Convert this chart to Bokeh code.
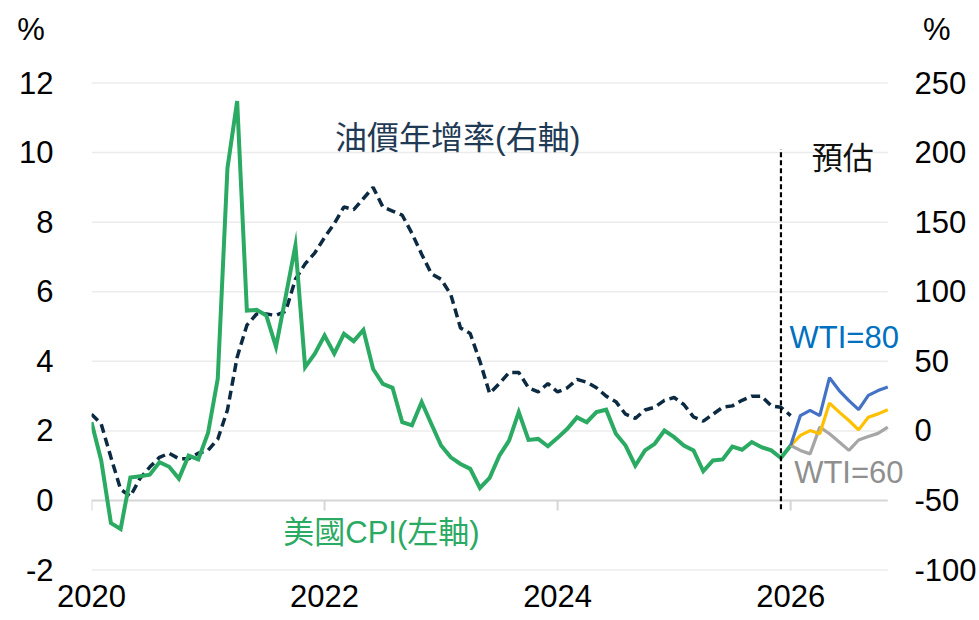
import numpy as np
import pandas as pd
from bokeh.plotting import figure
from bokeh.models import Range1d, LinearAxis, FixedTicker, Label
from bokeh.embed import file_html
from bokeh.resources import INLINE

# ---------------- data ----------------
cpi_start = "2020-01"
cpi_yoy = [2.25, 1.15, -0.65, -0.82, 0.66, 0.70, 0.74, 1.10, 0.97, 0.63, 1.29, 1.18,
           1.94, 3.50, 9.55, 11.48, 5.46, 5.48, 5.32, 4.42, 5.87, 7.33, 3.83, 4.22,
           4.74, 4.22, 4.79, 4.58, 4.90, 3.78, 3.35, 3.24, 2.25, 2.16, 2.83, 2.20,
           1.58, 1.24, 1.05, 0.91, 0.36, 0.65, 1.29, 1.72, 2.54, 1.74, 1.77, 1.56,
           1.80, 2.06, 2.39, 2.25, 2.54, 2.61, 1.92, 1.58, 1.00, 1.44, 1.63, 2.01,
           1.82, 1.58, 1.44, 0.84, 1.15, 1.18, 1.55, 1.46, 1.68, 1.53, 1.44, 1.22,
           1.58]
oil_yoy = [12, 5, -19, -42, -47, -34, -26, -19, -16, -20, -20, -16,
           -14, -6, 15, 53, 76, 84, 84, 83, 86, 109, 120, 128,
           139, 149, 161, 159, 167, 175, 161, 158, 155, 142, 127, 113,
           109, 98, 74, 70, 50, 27, 34, 42, 42, 31, 28, 34,
           28, 31, 37, 35, 31, 25, 21, 12, 9, 15, 17, 22,
           24, 19, 10, 7, 12, 17, 18, 22, 25, 25, 18, 17,
           11]
fc_start = "2026-01"
cpi_wti80 = [1.58, 2.44, 2.59, 2.44, 3.53, 3.16, 2.87, 2.61, 3.02, 3.16, 3.26]
cpi_wti70 = [1.58, 1.87, 2.01, 1.92, 2.80, 2.54, 2.30, 2.03, 2.39, 2.49, 2.61]
cpi_wti60 = [1.58, 1.44, 1.34, 2.11, 1.92, 1.68, 1.44, 1.74, 1.84, 1.93, 2.11]
forecast_marker = "2025-12"
year_ticks = [2020, 2022, 2024, 2026]
left_ticks = [-2, 0, 2, 4, 6, 8, 10, 12]
right_ticks = [-100, -50, 0, 50, 100, 150, 200, 250]


def dec_year(start, n):
    d = pd.date_range(start, periods=n, freq="MS")
    return (d.year + (d.month - 1) / 12.0).to_numpy()


x_cpi = dec_year(cpi_start, len(cpi_yoy))
x_oil = dec_year(cpi_start, len(oil_yoy))
x_fc = dec_year(fc_start, len(cpi_wti80))
x_mark = dec_year(forecast_marker, 1)[0]
x_first, x_last = x_cpi[0], x_fc[-1]

# left <-> right axis mapping: right = (left - 2) * 25
Y0, Y1 = -2.357, 14.027
to_right = lambda v: (v - 2) * 25
PCT_L = 13.55

FONT = "Liberation Sans"
CJK = "Liberation Sans, Noto Sans CJK TC"
NBSP = "\u00a0"

p = figure(width=979, height=620,
           x_range=Range1d(x_first, 2027.037),
           y_range=Range1d(Y0, Y1),
           output_backend="svg", toolbar_location=None,
           min_border_left=91, min_border_right=67,
           min_border_top=12, min_border_bottom=38)
p.outline_line_color = None
p.background_fill_color = "white"
p.border_fill_color = "white"
p.extra_y_ranges = {"right": Range1d(to_right(Y0), to_right(Y1))}

# grid: horizontal lines only across the data span
p.xgrid.visible = False
p.ygrid.visible = False
grid_ticks = [t for t in left_ticks if t != 0]
p.segment(x0=[x_first] * len(grid_ticks), y0=grid_ticks,
          x1=[x_last] * len(grid_ticks), y1=grid_ticks,
          line_color="#ececec", line_width=1.5)

# bottom axis (labels only)
xa = p.xaxis[0]
xa.ticker = FixedTicker(ticks=year_ticks)
xa.axis_line_color = None
xa.major_tick_line_color = None
xa.minor_tick_line_color = None
xa.major_tick_out = 0
xa.major_tick_in = 0
xa.major_label_standoff = 2
xa.major_label_text_font = FONT
xa.major_label_text_font_size = "31px"
xa.major_label_text_color = "#000000"


def style_y(ax, standoff):
    ax.axis_line_color = None
    ax.major_tick_line_color = None
    ax.minor_tick_line_color = None
    ax.major_tick_out = 0
    ax.major_tick_in = 0
    ax.major_label_standoff = standoff
    ax.major_label_text_font = FONT
    ax.major_label_text_font_size = "31px"
    ax.major_label_text_color = "#000000"


# left axis
ya = p.yaxis[0]
ya.ticker = FixedTicker(ticks=left_ticks + [PCT_L])
ya.major_label_overrides = {PCT_L: "%" + NBSP, **{t: str(t) for t in left_ticks if t < 0}}
style_y(ya, 38)

# right axis
pct_r = to_right(PCT_L)
ra = LinearAxis(y_range_name="right", ticker=FixedTicker(ticks=right_ticks + [pct_r]))
ra.major_label_overrides = {pct_r: NBSP + "%", **{t: str(t) for t in right_ticks if t < 0}}
style_y(ra, 3)
p.add_layout(ra, "right")

# zero line with year ticks
p.segment(x0=[x_first], y0=[0], x1=[x_last], y1=[0], line_color="#d6d6d6", line_width=2)
p.segment(x0=year_ticks, y0=[0] * len(year_ticks), x1=year_ticks,
          y1=[-0.29] * len(year_ticks), line_color="#d6d6d6", line_width=2)

# oil YoY (right axis)
p.line(x_oil, oil_yoy, y_range_name="right", line_color="#0c2a42",
       line_width=3.5, line_dash="9 5")

# US CPI (left axis)
p.line(x_cpi, cpi_yoy, line_color="#2aaa62", line_width=4, line_join="miter")

# forecast scenarios
p.line(x_fc, cpi_wti60, line_color="#a6a6a6", line_width=3.2)
p.line(x_fc, cpi_wti70, line_color="#ffc000", line_width=3.2)
p.line(x_fc, cpi_wti80, line_color="#4472c4", line_width=3.2)

# forecast divider
p.segment(x0=[x_mark], y0=[-0.25], x1=[x_mark], y1=[10.1],
          line_color="#000000", line_width=2.2, line_dash="5 3")

# annotations
p.add_layout(Label(x=2022.09, y=10.41, text="油價年增率(右軸)", text_font=CJK,
                   text_font_size="32px", text_color="#1f3a54",
                   text_align="left", text_baseline="middle"))
p.add_layout(Label(x=2021.646, y=-0.92, text="美國CPI(左軸)", text_font=CJK,
                   text_font_size="31px", text_color="#2aaa62",
                   text_align="left", text_baseline="middle"))
p.add_layout(Label(x=2026.18, y=9.83, text="預估", text_font=CJK,
                   text_font_size="31px", text_color="#111111",
                   text_align="left", text_baseline="middle"))
p.add_layout(Label(x=2025.99, y=4.69, text="WTI=80", text_font=FONT,
                   text_font_size="31px", text_color="#0070c0",
                   text_align="left", text_baseline="middle"))
p.add_layout(Label(x=2026.03, y=0.80, text="WTI=60", text_font=FONT,
                   text_font_size="31px", text_color="#8f8f8f",
                   text_align="left", text_baseline="middle"))

open("out.html", "w").write(file_html(p, INLINE))
